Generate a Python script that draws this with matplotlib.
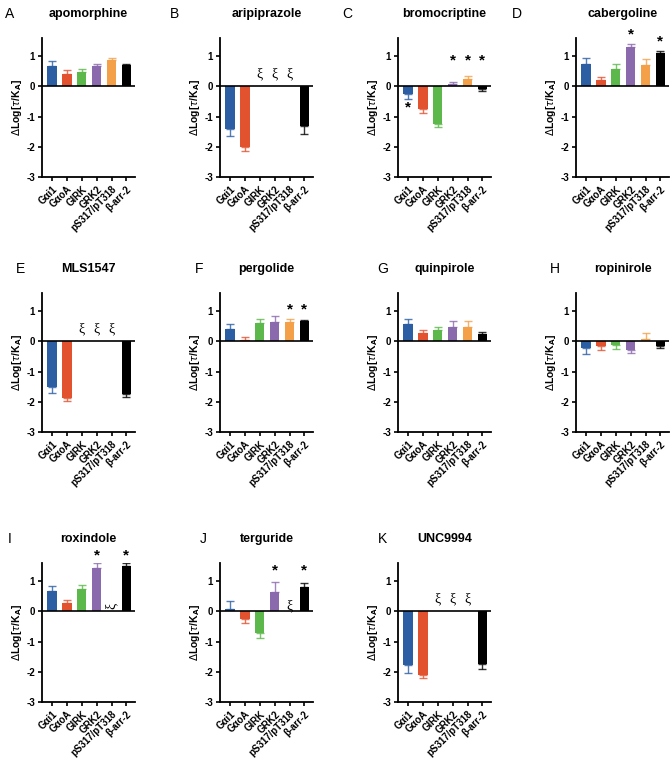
import matplotlib
matplotlib.use("Agg")
import matplotlib.pyplot as plt
import numpy as np

plt.rcParams['font.family'] = ['Liberation Sans', 'DejaVu Sans']

# categorias y colores
categories = ["G\u03b1i1", "G\u03b1oA", "GIRK", "GRK2", "pS317/pT318", "\u03b2-arr-2"]
colors = ["#2c5ea4", "#e3522f", "#5cb84a", "#8b69ad", "#f4a049", "#000000"]

drugs = ["apomorphine", "aripiprazole", "bromocriptine", "cabergoline",
         "MLS1547", "pergolide", "quinpirole", "ropinirole",
         "roxindole", "terguride", "UNC9994"]
letters = ["A", "B", "C", "D", "E", "F", "G", "H", "I", "J", "K"]

nan = np.nan
# valores de deltaLog(tau/KA) por ensayo (nan = sin respuesta, xi)
apomorphine = [0.66, 0.42, 0.49, 0.66, 0.86, 0.69]
aripiprazole = [-1.40, -2.02, nan, nan, nan, -1.32]
bromocriptine = [-0.25, -0.75, -1.23, 0.07, 0.23, -0.09]
cabergoline = [0.75, 0.21, 0.58, 1.31, 0.69, 1.11]
mls1547 = [-1.52, -1.88, nan, nan, nan, -1.74]
pergolide = [0.40, 0.05, 0.60, 0.63, 0.65, 0.67]
quinpirole = [0.58, 0.26, 0.36, 0.47, 0.47, 0.24]
ropinirole = [-0.22, -0.17, -0.13, -0.27, 0.09, -0.15]
roxindole = [0.67, 0.27, 0.74, 1.45, nan, 1.49]
terguride = [0.09, -0.26, -0.71, 0.64, nan, 0.80]
unc9994 = [-1.78, -2.11, nan, nan, nan, -1.75]

# errores (SEM)
apomorphine_err = [0.18, 0.12, 0.10, 0.09, 0.08, 0.06]
aripiprazole_err = [0.23, 0.11, nan, nan, nan, 0.26]
bromocriptine_err = [0.17, 0.12, 0.11, 0.09, 0.12, 0.06]
cabergoline_err = [0.18, 0.11, 0.17, 0.10, 0.20, 0.05]
mls1547_err = [0.18, 0.11, nan, nan, nan, 0.11]
pergolide_err = [0.19, 0.11, 0.14, 0.20, 0.09, 0.05]
quinpirole_err = [0.17, 0.11, 0.12, 0.19, 0.19, 0.06]
ropinirole_err = [0.20, 0.12, 0.12, 0.11, 0.19, 0.07]
roxindole_err = [0.18, 0.11, 0.14, 0.15, nan, 0.10]
terguride_err = [0.24, 0.11, 0.17, 0.34, nan, 0.15]
unc9994_err = [0.25, 0.11, nan, nan, nan, 0.17]

values = [apomorphine, aripiprazole, bromocriptine, cabergoline, mls1547,
          pergolide, quinpirole, ropinirole, roxindole, terguride, unc9994]
errors = [apomorphine_err, aripiprazole_err, bromocriptine_err, cabergoline_err,
          mls1547_err, pergolide_err, quinpirole_err, ropinirole_err,
          roxindole_err, terguride_err, unc9994_err]

# asteriscos: (panel, indice, altura)
stars = [(2, 0, -0.70), (2, 3, 0.84), (2, 4, 0.84), (2, 5, 0.84),
         (3, 3, 1.72), (3, 5, 1.48),
         (5, 4, 1.06), (5, 5, 1.06),
         (8, 3, 1.85), (8, 5, 1.85),
         (9, 3, 1.36), (9, 5, 1.36)]

W, H = 670, 765
fig = plt.figure(figsize=(W / 100, H / 100), dpi=100)

col_left = [42, 220, 398, 576]
row_bottom = [177, 432, 702]
ax_w, ax_h = 93, 139
title_y = [14, 269, 539]
letter_x = [[5, 170, 342, 512], [16, 195, 377, 550], [8, 200, 378]]

x = np.arange(len(categories))

for k, drug in enumerate(drugs):
    r, c = divmod(k, 4)
    left = col_left[c]
    bottom = row_bottom[r]
    ax = fig.add_axes([left / W, 1 - bottom / H, ax_w / W, ax_h / H])
    vals = np.array(values[k], dtype=float)
    errs = np.array(errors[k], dtype=float)

    for i in range(len(categories)):
        v = vals[i]
        if np.isnan(v):
            # sin respuesta
            if drug in ("roxindole", "terguride"):
                ax.text(x[i], 0.17, "\u03be", ha="center", va="center",
                        fontsize=10, family="Liberation Serif",
                        rotation=90 if drug == "roxindole" else 0)
            else:
                ax.text(x[i], 0.4, "\u03be", ha="center", va="center",
                        fontsize=10, family="Liberation Serif")
            continue
        ax.bar(x[i], v, width=0.63, color=colors[i], zorder=2)
        e = errs[i]
        lo = [[0], [e]] if v >= 0 else [[e], [0]]
        ax.errorbar(x[i], v, yerr=lo, fmt="none", ecolor=colors[i],
                    elinewidth=1.0, capsize=2.8, capthick=1.0, zorder=1,
                    alpha=0.8)

    for (p, i, yy) in stars:
        if p == k:
            ax.text(x[i], yy, "*", ha="center", va="center", fontsize=11,
                    fontweight="bold", clip_on=False)

    ax.axhline(0, color="black", lw=1.2, zorder=3)
    ax.set_xlim(-0.68, 5.58)
    ax.set_ylim(-3, 1.6)
    ax.set_yticks([-3, -2, -1, 0, 1])
    ax.set_yticklabels(["-3", "-2", "-1", "0", "1"], fontsize=7, fontweight="bold")
    ax.set_xticks(x)
    ax.set_xticklabels(categories, rotation=45, ha="right",
                       rotation_mode="anchor", fontsize=7, fontweight="bold")
    ax.tick_params(direction="out", length=3, width=1.2, pad=2)
    for s in ["top", "right"]:
        ax.spines[s].set_visible(False)
    for s in ["left", "bottom"]:
        ax.spines[s].set_linewidth(1.3)
    ax.set_ylabel(r"$\Delta$Log[$\tau$/K$_\mathbf{A}$]", fontsize=7.5,
                  fontweight="bold", labelpad=2)

    cx = (left + ax_w / 2) / W
    fig.text(cx, 1 - title_y[r] / H, drug, ha="center", va="center",
             fontsize=9, fontweight="bold")
    fig.text(letter_x[r][c] / W, 1 - title_y[r] / H, letters[k], ha="left",
             va="center", fontsize=10)

fig.savefig("out.png", dpi=100)
